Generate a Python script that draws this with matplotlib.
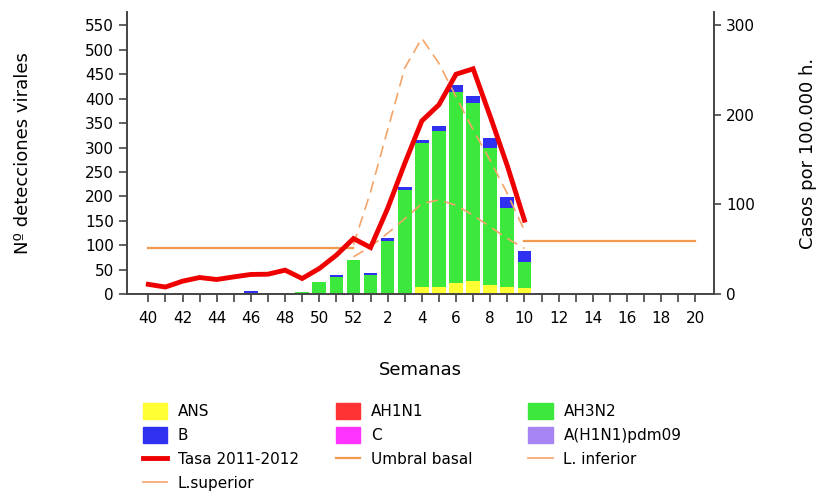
import numpy as np
import matplotlib.pyplot as plt
from matplotlib.patches import Patch
from matplotlib.lines import Line2D

semanas = list(range(40, 53)) + list(range(1, 21))
x = np.arange(len(semanas))

# detecciones virales por semana (semanas 40..52, 1..20)
ans   = [0, 0, 0, 0, 0, 0, 0, 0, 0, 0, 0, 0, 0, 0, 2, 3, 14, 14, 22, 27, 18, 14, 12] + [0]*10
ah1n1 = [0]*33
ah3n2 = [0, 0, 0, 0, 0, 0, 2, 0, 3, 5, 24, 35, 70, 39, 106, 211, 295, 321, 391, 364, 282, 162, 54] + [0]*10
b     = [0, 0, 0, 0, 0, 0, 5, 0, 0, 0, 0, 4, 0, 5, 8, 6, 7, 9, 16, 14, 20, 22, 22] + [0]*10
c     = [0]*33
pdm09 = [0]*33

nan = np.nan
tasa = [11, 8, 14.5, 18.6, 16.4, 19.3, 22, 22.3, 26.8, 17.5, 28.6, 43.5, 62, 52, 95.6, 145.7,
        193, 211, 245, 251, 198, 143, 82.5] + [nan]*10
umbral = [52]*13 + [nan]*9 + [59.5]*11
l_sup = [nan]*12 + [55, 114, 183, 252, 285, 257, 220, 183, 149, 112, 71] + [nan]*10
l_inf = [nan]*12 + [41.6, 53, 68, 84, 101, 105, 99, 88, 75, 62, 51] + [nan]*10

col_ans = '#FFFF33'
col_ah1n1 = '#FF3333'
col_ah3n2 = '#3CE83C'
col_b = '#3030F0'
col_c = '#FF33FF'
col_pdm = '#A685F2'
col_tasa = '#EE0000'
col_umbral = '#F39A4E'
col_lim = '#F5A468'

fig = plt.figure(figsize=(8.19, 4.92), dpi=100)
ax = fig.add_axes([0.155, 0.402, 0.717, 0.574])
ax2 = ax.twinx()

bottom = np.zeros(len(x))
for vals, col in [(ans, col_ans), (ah1n1, col_ah1n1), (ah3n2, col_ah3n2),
                  (b, col_b), (c, col_c), (pdm09, col_pdm)]:
    ax.bar(x, vals, bottom=bottom, width=0.8, color=col, linewidth=0)
    bottom += np.array(vals)

ax2.plot(x, umbral, color=col_umbral, lw=1.6)
ax2.plot(x, l_sup, color=col_lim, lw=1.2, dashes=(7, 4))
ax2.plot(x, l_inf, color=col_lim, lw=1.2, dashes=(7, 4))
ax2.plot(x, tasa, color=col_tasa, lw=3.5, solid_joinstyle='miter')

ax.set_xlim(-1.25, 33.1)
ax.set_ylim(0, 578)
ax2.set_ylim(0, 314.5)
ax.set_yticks(range(0, 551, 50))
ax2.set_yticks([0, 100, 200, 300])
ax.set_xticks(x)
ax.set_xticklabels([str(s) if i % 2 == 0 else '' for i, s in enumerate(semanas)])

for a in (ax, ax2):
    a.spines['top'].set_visible(False)
    for s in a.spines.values():
        s.set_color('#444444')
        s.set_linewidth(1.2)
ax.tick_params(axis='both', labelsize=11, length=6, width=1.2, color='#444444')
ax2.tick_params(axis='y', labelsize=11, length=5, width=1.2, color='#444444')
ax.tick_params(axis='x', pad=6)

ax.set_ylabel('Nº detecciones virales', fontsize=13, labelpad=38)
ax2.set_ylabel('Casos por 100.000 h.', fontsize=13, labelpad=32)
ax.set_xlabel('Semanas', fontsize=13, labelpad=25)

h = {
    'ANS': Patch(color=col_ans), 'AH1N1': Patch(color=col_ah1n1), 'AH3N2': Patch(color=col_ah3n2),
    'B': Patch(color=col_b), 'C': Patch(color=col_c), 'A(H1N1)pdm09': Patch(color=col_pdm),
    'Tasa 2011-2012': Line2D([], [], color=col_tasa, lw=3.5),
    'Umbral basal': Line2D([], [], color=col_umbral, lw=1.6),
    'L. inferior': Line2D([], [], color=col_lim, lw=1.2),
    'L.superior': Line2D([], [], color=col_lim, lw=1.2),
}
columnas = [['ANS', 'B', 'Tasa 2011-2012', 'L.superior'],
            ['AH1N1', 'C', 'Umbral basal'],
            ['AH3N2', 'A(H1N1)pdm09', 'L. inferior']]
for xpos, col in zip([0.174, 0.410, 0.645], columnas):
    fig.legend([h[k] for k in col], col, loc='upper left',
               bbox_to_anchor=(xpos, 0.180), frameon=False, fontsize=11,
               handlelength=1.6, handleheight=1.2, labelspacing=0.52,
               handletextpad=0.7, borderpad=0, borderaxespad=0)

fig.savefig('out.png', dpi=100)
